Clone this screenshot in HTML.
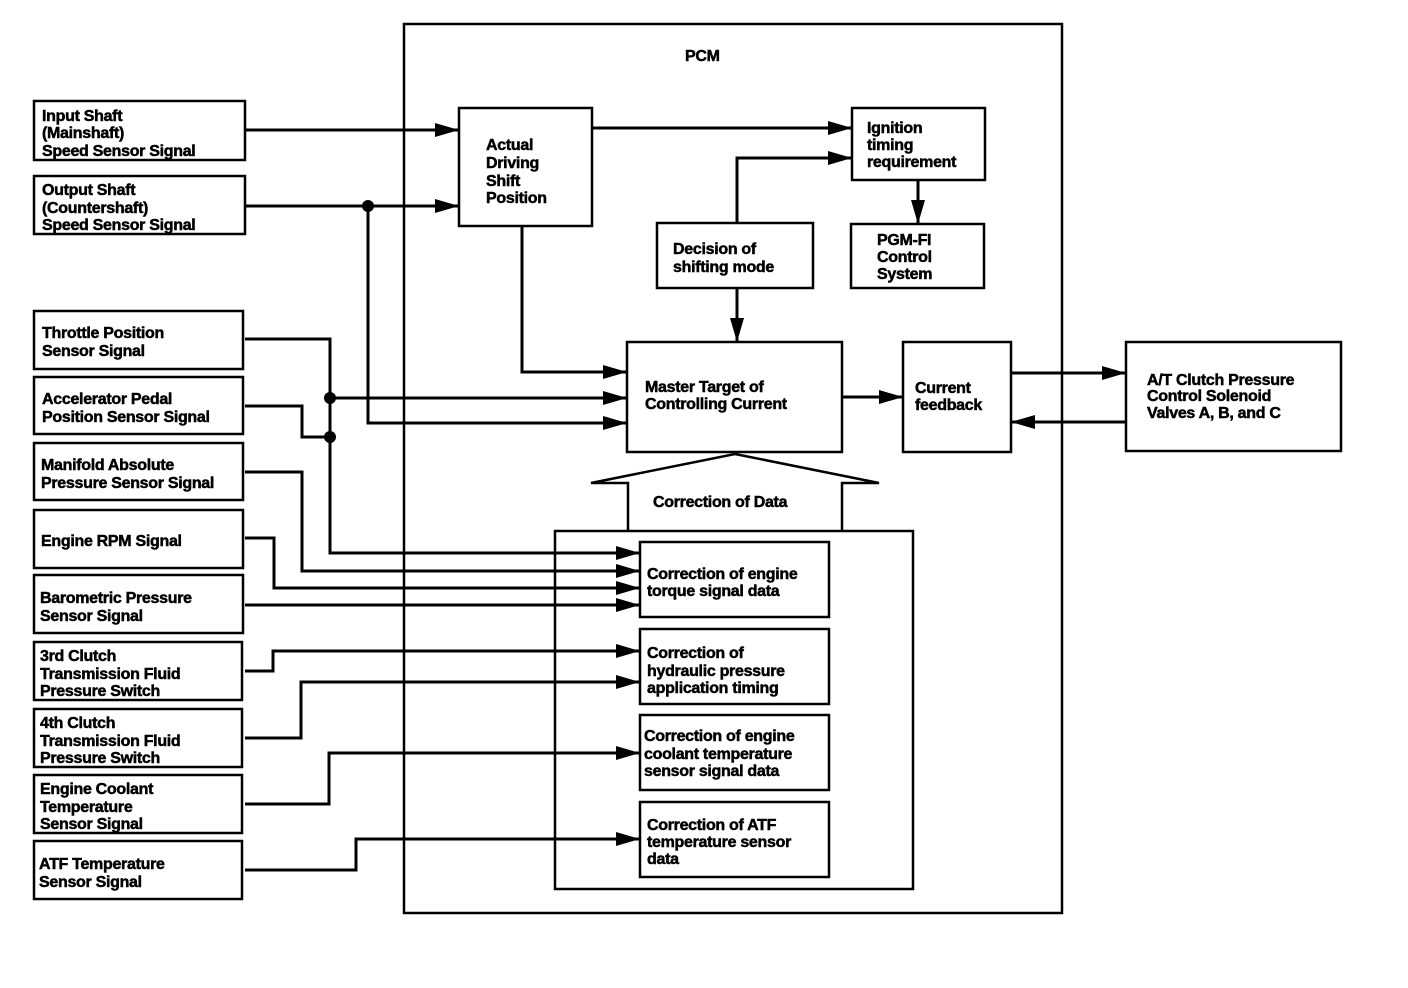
<!DOCTYPE html>
<html><head><meta charset="utf-8"><style>
html,body{margin:0;padding:0;background:#fff;}
svg{display:block;}
text{font-family:"Liberation Sans",sans-serif;font-weight:bold;font-size:16px;fill:#000;stroke:#000;stroke-width:0.5px;letter-spacing:-0.3px;}
</style></head><body>
<svg width="1408" height="988" viewBox="0 0 1408 988" xmlns="http://www.w3.org/2000/svg">
<defs>
<marker id="a" markerWidth="24" markerHeight="14" refX="24" refY="7" orient="auto" markerUnits="userSpaceOnUse">
<path d="M0,0 L24,7 L0,14 Z" fill="#000"/></marker>
</defs>
<g fill="none" stroke="#000" stroke-width="2.5">
<rect x="404" y="24" width="658" height="889"/>
<rect x="34" y="101" width="211" height="59"/>
<rect x="34" y="176" width="211" height="58"/>
<rect x="34" y="311" width="209" height="58"/>
<rect x="34" y="377" width="209" height="57"/>
<rect x="34" y="443" width="209" height="57"/>
<rect x="34" y="510" width="209" height="58"/>
<rect x="34" y="575" width="209" height="58"/>
<rect x="34" y="642" width="208" height="58"/>
<rect x="34" y="709" width="208" height="58"/>
<rect x="34" y="775" width="208" height="58"/>
<rect x="34" y="841" width="208" height="58"/>
<rect x="459" y="108" width="133" height="118"/>
<rect x="852" y="108" width="133" height="72"/>
<rect x="851" y="224" width="133" height="64"/>
<rect x="657" y="223" width="156" height="65"/>
<rect x="627" y="342" width="215" height="110"/>
<rect x="903" y="342" width="108" height="110"/>
<rect x="1126" y="342" width="215" height="109"/>
<path d="M628,531 L628,483 L591,483 L735,454 L879,483 L842,483 L842,531"/>
<rect x="555" y="531" width="358" height="358"/>
<rect x="640" y="542" width="189" height="75"/>
<rect x="640" y="629" width="189" height="75"/>
<rect x="640" y="715" width="189" height="75"/>
<rect x="640" y="802" width="189" height="75"/>
</g>
<g fill="none" stroke="#000" stroke-width="3" marker-end="url(#a)">
<path d="M245,130 L459,130"/>
<path d="M245,206 L459,206"/>
<path d="M368,206 L368,423 L627,423"/>
<path d="M592,128 L852,128"/>
<path d="M737,223 L737,158 L852,158"/>
<path d="M918,180 L918,224"/>
<path d="M737,288 L737,342"/>
<path d="M522,226 L522,372 L627,372"/>
<path d="M245,339 L330,339 L330,398 L627,398"/>
<path d="M330,398 L330,553 L640,553"/>
<path d="M245,472 L302,472 L302,571 L640,571"/>
<path d="M245,538 L274,538 L274,588 L640,588"/>
<path d="M245,605 L640,605"/>
<path d="M245,671 L273,671 L273,651 L640,651"/>
<path d="M245,738 L301,738 L301,682 L640,682"/>
<path d="M245,804 L329,804 L329,753 L640,753"/>
<path d="M245,870 L356,870 L356,839 L640,839"/>
<path d="M842,397 L903,397"/>
<path d="M1011,373 L1126,373"/>
<path d="M1126,422 L1011,422"/>
</g>
<path d="M245,406 L302,406 L302,437 L330,437" fill="none" stroke="#000" stroke-width="3"/>
<circle cx="368" cy="206" r="6"/>
<circle cx="330" cy="398" r="6"/>
<circle cx="330" cy="437" r="6"/>
<text x="685" y="61">PCM</text>
<text x="42" y="121">Input Shaft</text><text x="42" y="138">(Mainshaft)</text><text x="42" y="156">Speed Sensor Signal</text>
<text x="42" y="195">Output Shaft</text><text x="42" y="213">(Countershaft)</text><text x="42" y="230">Speed Sensor Signal</text>
<text x="42" y="338">Throttle Position</text><text x="42" y="356">Sensor Signal</text>
<text x="42" y="404">Accelerator Pedal</text><text x="42" y="422">Position Sensor Signal</text>
<text x="41" y="470">Manifold Absolute</text><text x="41" y="488">Pressure Sensor Signal</text>
<text x="41" y="546">Engine RPM Signal</text>
<text x="40" y="603">Barometric Pressure</text><text x="40" y="621">Sensor Signal</text>
<text x="40" y="661">3rd Clutch</text><text x="40" y="679">Transmission Fluid</text><text x="40" y="696">Pressure Switch</text>
<text x="40" y="728">4th Clutch</text><text x="40" y="746">Transmission Fluid</text><text x="40" y="763">Pressure Switch</text>
<text x="40" y="794">Engine Coolant</text><text x="40" y="812">Temperature</text><text x="40" y="829">Sensor Signal</text>
<text x="39" y="869">ATF Temperature</text><text x="39" y="887">Sensor Signal</text>
<text x="486" y="150">Actual</text><text x="486" y="168">Driving</text><text x="486" y="186">Shift</text><text x="486" y="203">Position</text>
<text x="867" y="133">Ignition</text><text x="867" y="150">timing</text><text x="867" y="167">requirement</text>
<text x="877" y="245">PGM-FI</text><text x="877" y="262">Control</text><text x="877" y="279">System</text>
<text x="673" y="254">Decision of</text><text x="673" y="272">shifting mode</text>
<text x="645" y="392">Master Target of</text><text x="645" y="409">Controlling Current</text>
<text x="915" y="393">Current</text><text x="915" y="410">feedback</text>
<text x="1147" y="385">A/T Clutch Pressure</text><text x="1147" y="401">Control Solenoid</text><text x="1147" y="418">Valves A, B, and C</text>
<text x="653" y="507">Correction of Data</text>
<text x="647" y="579">Correction of engine</text><text x="647" y="596">torque signal data</text>
<text x="647" y="658">Correction of</text><text x="647" y="676">hydraulic pressure</text><text x="647" y="693">application timing</text>
<text x="644" y="741">Correction of engine</text><text x="644" y="759">coolant temperature</text><text x="644" y="776">sensor signal data</text>
<text x="647" y="830">Correction of ATF</text><text x="647" y="847">temperature sensor</text><text x="647" y="864">data</text>
</svg>
</body></html>
